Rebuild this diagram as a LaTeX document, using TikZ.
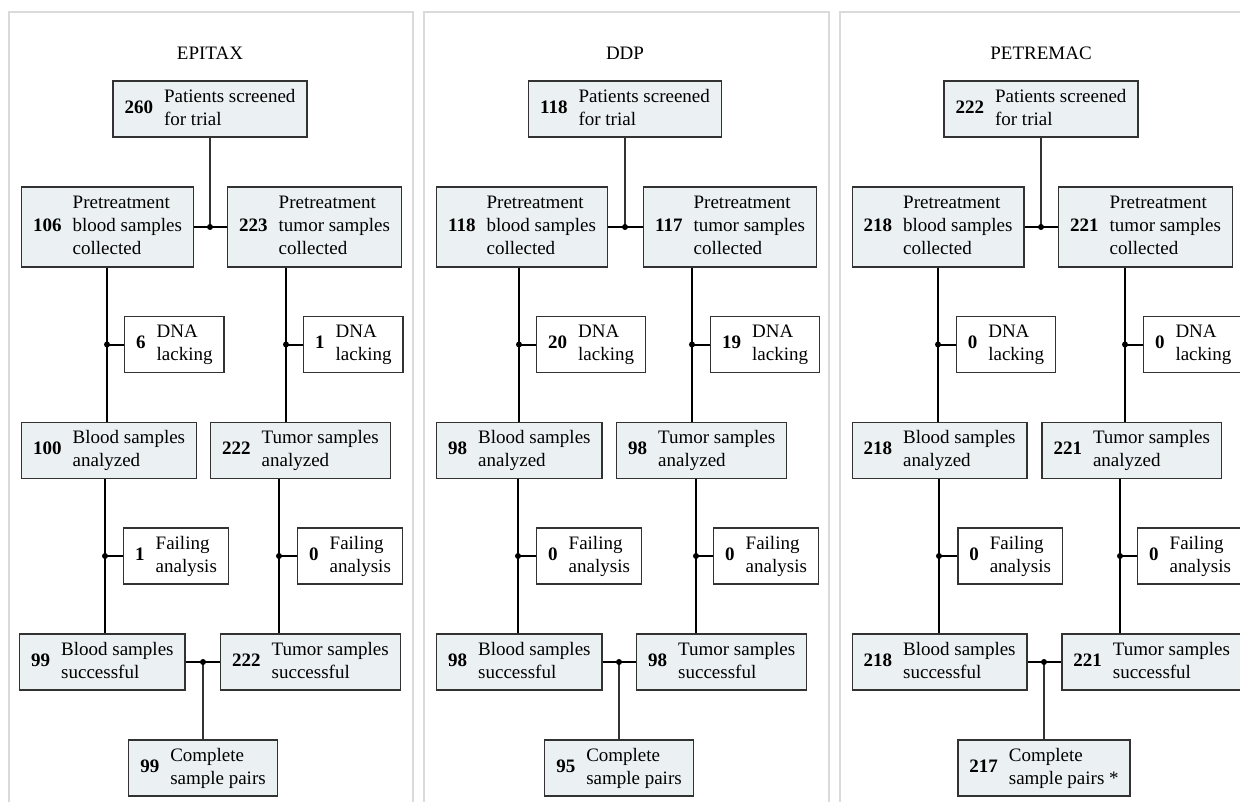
\documentclass[tikz,border=0pt]{standalone}
\usepackage{fontspec}
\setmainfont{Liberation Serif}
\definecolor{fillc}{RGB}{235,240,243}
\definecolor{bordc}{RGB}{50,50,50}
\definecolor{stemc}{RGB}{50,50,50}
\definecolor{panelc}{RGB}{218,218,218}
\newcommand\bt[2]{\textbf{#1}\hspace{11pt}\begin{tabular}{@{}l@{}}#2\end{tabular}}
\tikzset{
 gbox/.style={draw=bordc, fill=fillc, line width=1.4pt, inner xsep=11.5pt, inner ysep=0pt, anchor=west, rectangle},
 wbox/.style={gbox, fill=white},
 two/.style={minimum height=56pt},
 three/.style={minimum height=80pt},
 conn/.style={line width=2pt, draw=black},
 stem/.style={line width=1.8pt, draw=stemc},
 panel/.style={draw=panelc, line width=1.5pt},
 ttl/.style={inner sep=0pt}
}
\begin{document}
\begin{tikzpicture}[x=1pt, y=-1pt, font=\fontsize{19}{23}\selectfont]
\useasboundingbox (0,0) rectangle (1240,801);
\clip (0,0) rectangle (1240,801);
\draw[panel] (9,830) -- (9,12) -- (413,12) -- (413,830);
\draw[panel] (424,830) -- (424,12) -- (829,12) -- (829,830);
\draw[panel] (840,830) -- (840,12) -- (1260,12);

% ---------------- Panel 1 -----------------
\node[ttl] (t1) at (210,53.5) {EPITAX};
\node[gbox,two,anchor=center] (p1top) at (210,109) {\bt{260}{Patients screened\\for trial}};
\node[gbox,three] (p1bc) at (21,227) {\bt{106}{Pretreatment\\blood samples\\collected}};
\node[gbox,three] (p1tc) at (227,227) {\bt{223}{Pretreatment\\tumor samples\\collected}};
\coordinate (p1j0) at (210,227);
\coordinate (p1j1) at (107,344.5);
\coordinate (p1j2) at (286,344.5);
\node[wbox,two] (p1d1) at (124,344.5) {\bt{6}{DNA\\lacking}};
\node[wbox,two] (p1d2) at (303,344.5) {\bt{1}{DNA\\lacking}};
\node[gbox,two] (p1ba) at (21,450.5) {\bt{100}{Blood samples\\analyzed}};
\node[gbox,two] (p1ta) at (210,450.5) {\bt{222}{Tumor samples\\analyzed}};
\coordinate (p1j3) at (105,556);
\coordinate (p1j4) at (279,556);
\node[wbox,two] (p1f1) at (123,556) {\bt{1}{Failing\\analysis}};
\node[wbox,two] (p1f2) at (297,556) {\bt{0}{Failing\\analysis}};
\node[gbox,two] (p1bs) at (19,662) {\bt{99}{Blood samples\\successful}};
\node[gbox,two] (p1ts) at (220,662) {\bt{222}{Tumor samples\\successful}};
\coordinate (p1j5) at (203,662);
\node[gbox,two,anchor=center] (p1cp) at (203,768) {\bt{99}{Complete\\sample pairs}};

\draw[stem] (p1top.south) -- (p1j0);
\draw[conn] (p1bc.east) -- (p1tc.west);
\draw[conn] (p1bc.south -| p1j1) -- (p1ba.north -| p1j1);
\draw[conn] (p1tc.south -| p1j2) -- (p1ta.north -| p1j2);
\draw[conn] (p1j1) -- (p1d1.west);
\draw[conn] (p1j2) -- (p1d2.west);
\draw[conn] (p1ba.south -| p1j3) -- (p1bs.north -| p1j3);
\draw[conn] (p1ta.south -| p1j4) -- (p1ts.north -| p1j4);
\draw[conn] (p1j3) -- (p1f1.west);
\draw[conn] (p1j4) -- (p1f2.west);
\draw[conn] (p1bs.east) -- (p1ts.west);
\draw[stem] (p1j5) -- (p1cp.north);
\foreach \j in {p1j0,p1j1,p1j2,p1j3,p1j4,p1j5} \fill (\j) circle (3pt);

% ---------------- Panel 2 -----------------
\node[ttl] (t2) at (625,53.5) {DDP};
\node[gbox,two,anchor=center] (p2top) at (625,109) {\bt{118}{Patients screened\\for trial}};
\node[gbox,three] (p2bc) at (436,227) {\bt{118}{Pretreatment\\blood samples\\collected}};
\node[gbox,three] (p2tc) at (643,227) {\bt{117}{Pretreatment\\tumor samples\\collected}};
\coordinate (p2j0) at (625,227);
\coordinate (p2j1) at (519,344.5);
\coordinate (p2j2) at (692,344.5);
\node[wbox,two] (p2d1) at (536,344.5) {\bt{20}{DNA\\lacking}};
\node[wbox,two] (p2d2) at (710,344.5) {\bt{19}{DNA\\lacking}};
\node[gbox,two] (p2ba) at (436,450.5) {\bt{98}{Blood samples\\analyzed}};
\node[gbox,two] (p2ta) at (616,450.5) {\bt{98}{Tumor samples\\analyzed}};
\coordinate (p2j3) at (518,556);
\coordinate (p2j4) at (696,556);
\node[wbox,two] (p2f1) at (536,556) {\bt{0}{Failing\\analysis}};
\node[wbox,two] (p2f2) at (713,556) {\bt{0}{Failing\\analysis}};
\node[gbox,two] (p2bs) at (436,662) {\bt{98}{Blood samples\\successful}};
\node[gbox,two] (p2ts) at (636,662) {\bt{98}{Tumor samples\\successful}};
\coordinate (p2j5) at (619,662);
\node[gbox,two,anchor=center] (p2cp) at (619,768) {\bt{95}{Complete\\sample pairs}};

\draw[stem] (p2top.south) -- (p2j0);
\draw[conn] (p2bc.east) -- (p2tc.west);
\draw[conn] (p2bc.south -| p2j1) -- (p2ba.north -| p2j1);
\draw[conn] (p2tc.south -| p2j2) -- (p2ta.north -| p2j2);
\draw[conn] (p2j1) -- (p2d1.west);
\draw[conn] (p2j2) -- (p2d2.west);
\draw[conn] (p2ba.south -| p2j3) -- (p2bs.north -| p2j3);
\draw[conn] (p2ta.south -| p2j4) -- (p2ts.north -| p2j4);
\draw[conn] (p2j3) -- (p2f1.west);
\draw[conn] (p2j4) -- (p2f2.west);
\draw[conn] (p2bs.east) -- (p2ts.west);
\draw[stem] (p2j5) -- (p2cp.north);
\foreach \j in {p2j0,p2j1,p2j2,p2j3,p2j4,p2j5} \fill (\j) circle (3pt);

% ---------------- Panel 3 -----------------
\node[ttl] (t3) at (1041,53.5) {PETREMAC};
\node[gbox,two,anchor=center] (p3top) at (1041,109) {\bt{222}{Patients screened\\for trial}};
\node[gbox,three] (p3bc) at (851.5,227) {\bt{218}{Pretreatment\\blood samples\\collected}};
\node[gbox,three] (p3tc) at (1058,227) {\bt{221}{Pretreatment\\tumor samples\\collected}};
\coordinate (p3j0) at (1041,227);
\coordinate (p3j1) at (938,344.5);
\coordinate (p3j2) at (1125,344.5);
\node[wbox,two] (p3d1) at (955.6,344.5) {\bt{0}{DNA\\lacking}};
\node[wbox,two] (p3d2) at (1142.8,344.5) {\bt{0}{DNA\\lacking}};
\node[gbox,two] (p3ba) at (851.5,450.5) {\bt{218}{Blood samples\\analyzed}};
\node[gbox,two] (p3ta) at (1041.3,450.5) {\bt{221}{Tumor samples\\analyzed}};
\coordinate (p3j3) at (939,556);
\coordinate (p3j4) at (1120,556);
\node[wbox,two] (p3f1) at (957.1,556) {\bt{0}{Failing\\analysis}};
\node[wbox,two] (p3f2) at (1137,556) {\bt{0}{Failing\\analysis}};
\node[gbox,two] (p3bs) at (851.5,662) {\bt{218}{Blood samples\\successful}};
\node[gbox,two] (p3ts) at (1061.2,662) {\bt{221}{Tumor samples\\successful}};
\coordinate (p3j5) at (1044,662);
\node[gbox,two,anchor=center] (p3cp) at (1044,768) {\bt{217}{Complete\\sample pairs *}};

\draw[stem] (p3top.south) -- (p3j0);
\draw[conn] (p3bc.east) -- (p3tc.west);
\draw[conn] (p3bc.south -| p3j1) -- (p3ba.north -| p3j1);
\draw[conn] (p3tc.south -| p3j2) -- (p3ta.north -| p3j2);
\draw[conn] (p3j1) -- (p3d1.west);
\draw[conn] (p3j2) -- (p3d2.west);
\draw[conn] (p3ba.south -| p3j3) -- (p3bs.north -| p3j3);
\draw[conn] (p3ta.south -| p3j4) -- (p3ts.north -| p3j4);
\draw[conn] (p3j3) -- (p3f1.west);
\draw[conn] (p3j4) -- (p3f2.west);
\draw[conn] (p3bs.east) -- (p3ts.west);
\draw[stem] (p3j5) -- (p3cp.north);
\foreach \j in {p3j0,p3j1,p3j2,p3j3,p3j4,p3j5} \fill (\j) circle (3pt);
\end{tikzpicture}
\end{document}
